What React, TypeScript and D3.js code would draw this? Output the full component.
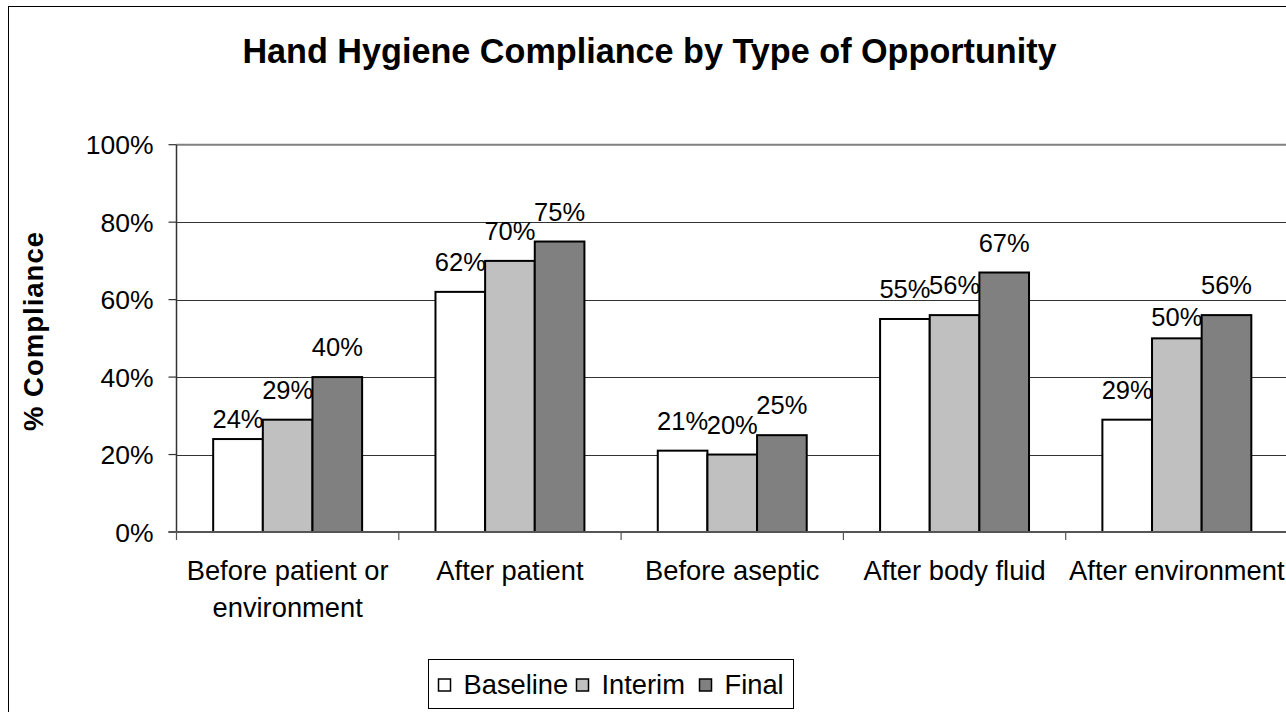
import { useEffect, useRef } from "react";
import * as d3 from "d3";

const CATEGORIES = [
  "Before patient or\nenvironment",
  "After patient",
  "Before aseptic",
  "After body fluid",
  "After environment",
];
const SERIES = ["Baseline", "Interim", "Final"];
const BASELINE = [24, 62, 21, 55, 29];
const INTERIM = [29, 70, 20, 56, 50];
const FINAL = [40, 75, 25, 67, 56];
const Y_TICKS = [0, 20, 40, 60, 80, 100];

const FILLS = ["#ffffff", "#c0c0c0", "#808080"];
const FONT = "'Liberation Sans', Arial, sans-serif";

// a couple of labels sit lower in the original (series-category -> px down)
const LABEL_NUDGE: Record<string, number> = { "0-0": 10, "1-4": 9 };

export default function App() {
  const svgRef = useRef<SVGSVGElement>(null);

  useEffect(() => {
    if (!svgRef.current) return;
    const svg = d3.select(svgRef.current);
    svg.selectAll("*").remove();

    const W = 1286;
    const H = 712;
    const left = 176.5;
    const bandW = 222.3;
    const top = 144.7;
    const bottom = 532;

    // outer chart border (runs off the right and bottom edge)
    svg.append("rect")
      .attr("x", 8.5).attr("y", 6.5)
      .attr("width", W + 20).attr("height", H + 20)
      .attr("fill", "#fff").attr("stroke", "#000").attr("stroke-width", 1);

    const x0 = d3.scaleBand<string>()
      .domain(CATEGORIES)
      .range([left, left + bandW * CATEGORIES.length])
      .padding(0);
    const gap = x0.bandwidth() * 0.165;
    const x1 = d3.scaleBand<string>()
      .domain(SERIES)
      .range([gap, x0.bandwidth() - gap])
      .padding(0);
    const y = d3.scaleLinear().domain([0, 100]).range([bottom, top]);

    // gridlines
    svg.append("g")
      .selectAll("line")
      .data(Y_TICKS.filter((t) => t > 0 && t < 100))
      .join("line")
      .attr("x1", left).attr("x2", W)
      .attr("y1", (d) => Math.round(y(d)) + 0.5)
      .attr("y2", (d) => Math.round(y(d)) + 0.5)
      .attr("stroke", "#333").attr("stroke-width", 1.2);

    // plot-area top edge
    svg.append("line")
      .attr("x1", left).attr("x2", W)
      .attr("y1", top).attr("y2", top)
      .attr("stroke", "#808080").attr("stroke-width", 2);

    // bars
    const seriesValues = [BASELINE, INTERIM, FINAL];
    const g = svg.append("g");
    CATEGORIES.forEach((cat, ci) => {
      SERIES.forEach((s, si) => {
        const v = seriesValues[si][ci];
        const bx = x0(cat)! + x1(s)!;
        g.append("rect")
          .attr("x", bx)
          .attr("y", y(v))
          .attr("width", x1.bandwidth())
          .attr("height", bottom - y(v))
          .attr("fill", FILLS[si])
          .attr("stroke", "#000")
          .attr("stroke-width", 2);
      });
    });

    // data labels
    CATEGORIES.forEach((cat, ci) => {
      SERIES.forEach((s, si) => {
        const v = seriesValues[si][ci];
        const nudge = LABEL_NUDGE[`${si}-${ci}`] ?? 0;
        svg.append("text")
          .attr("x", x0(cat)! + x1(s)! + x1.bandwidth() / 2)
          .attr("y", y(v) - 21 + nudge)
          .attr("text-anchor", "middle")
          .attr("font-family", FONT)
          .attr("font-size", 25.5)
          .attr("fill", "#000")
          .text(`${v}%`);
      });
    });

    // y axis
    svg.append("line")
      .attr("x1", left).attr("x2", left)
      .attr("y1", top).attr("y2", bottom)
      .attr("stroke", "#333").attr("stroke-width", 1.5);
    Y_TICKS.forEach((t) => {
      svg.append("line")
        .attr("x1", left - 8).attr("x2", left)
        .attr("y1", y(t)).attr("y2", y(t))
        .attr("stroke", "#333").attr("stroke-width", 1.2);
      svg.append("text")
        .attr("x", 153.5)
        .attr("y", y(t))
        .attr("dy", "0.36em")
        .attr("text-anchor", "end")
        .attr("font-family", FONT)
        .attr("font-size", 26.5)
        .text(`${t}%`);
    });

    // x axis
    svg.append("line")
      .attr("x1", left - 8).attr("x2", W)
      .attr("y1", bottom).attr("y2", bottom)
      .attr("stroke", "#555").attr("stroke-width", 2);
    CATEGORIES.forEach((cat) => {
      const bx = x0(cat)!;
      svg.append("line")
        .attr("x1", bx).attr("x2", bx)
        .attr("y1", bottom).attr("y2", bottom + 8)
        .attr("stroke", "#555").attr("stroke-width", 1.2);
      const t = svg.append("text")
        .attr("text-anchor", "middle")
        .attr("font-family", FONT)
        .attr("font-size", 27.3);
      cat.split("\n").forEach((line, li) => {
        t.append("tspan")
          .attr("x", bx + x0.bandwidth() / 2)
          .attr("y", 580 + li * 37)
          .text(line);
      });
    });

    // title
    svg.append("text")
      .attr("x", 649.5).attr("y", 63)
      .attr("text-anchor", "middle")
      .attr("font-family", FONT)
      .attr("font-weight", "bold")
      .attr("font-size", 34.2)
      .text("Hand Hygiene Compliance by Type of Opportunity");

    // y title
    svg.append("text")
      .attr("transform", "translate(43,331) rotate(-90)")
      .attr("text-anchor", "middle")
      .attr("font-family", FONT)
      .attr("font-weight", "bold")
      .attr("font-size", 27.5)
      .attr("letter-spacing", 1)
      .text("% Compliance");

    // legend
    const lg = svg.append("g");
    lg.append("rect")
      .attr("x", 428.5).attr("y", 659.5)
      .attr("width", 365).attr("height", 49)
      .attr("fill", "#fff").attr("stroke", "#000").attr("stroke-width", 1);
    const swatchX = [438.5, 576.5, 699.5];
    SERIES.forEach((s, si) => {
      lg.append("rect")
        .attr("x", swatchX[si]).attr("y", 679)
        .attr("width", 12).attr("height", 12)
        .attr("fill", FILLS[si]).attr("stroke", "#000").attr("stroke-width", 1.5);
      lg.append("text")
        .attr("x", swatchX[si] + 25).attr("y", 693.5)
        .attr("font-family", FONT)
        .attr("font-size", 27.3)
        .text(s);
    });
  }, []);

  return (
    <svg
      ref={svgRef}
      width={1286}
      height={712}
      style={{ position: "absolute", left: 0, top: 0, background: "#fff" }}
    />
  );
}
